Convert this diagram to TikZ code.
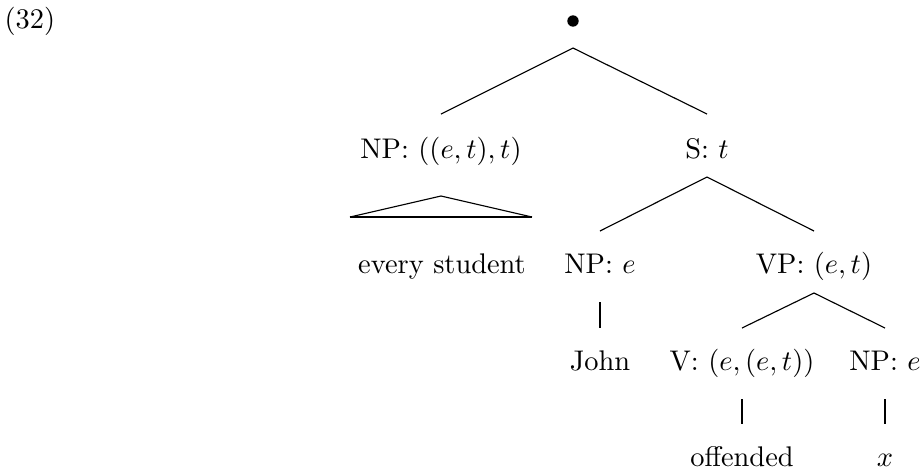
\documentclass[tikz,border=0pt]{standalone}
\usetikzlibrary{calc}
\begin{document}
\begin{tikzpicture}[x=0.352pt,y=-0.352pt,
  lbl/.style={anchor=base,inner sep=0pt},
  br/.style={line width=0.4pt},
  vline/.style={line width=0.7pt}]
\useasboundingbox (0,0) rectangle (922,472);
\node[inner sep=0pt,anchor=base west] (ex) at (4,28) {(32)};
\node[circle,fill,inner sep=0pt,minimum size=4pt] (root) at (573,21) {};
\node[lbl] (np1) at (441,158) {NP: $((e,t),t)$};
\node[lbl] (s) at (707,158) {S: $t$};
\node[lbl] (every) at (442,273) {every student};
\node[lbl] (npe) at (600,273) {NP: $e$};
\node[lbl] (vp) at (814,273) {VP: $(e,t)$};
\node[lbl] (john) at (600,370) {John};
\node[lbl] (v) at (742,370) {V: $(e,(e,t))$};
\node[lbl] (np2) at (885,370) {NP: $e$};
\node[lbl] (off) at (742,466) {offended};
\node[lbl] (xx) at (885,466) {$x$};
\draw[br] ($(np1.base)+(0,-44)$) -- ($(root.center)+(0,27)$) -- ($(s.base)+(0,-44)$);
\draw[br] ($(npe.base)+(0,-42)$) -- ($(s.base)+(0,19)$) -- ($(vp.base)+(0,-42)$);
\draw[br] ($(v.base)+(0,-42)$) -- ($(vp.base)+(0,20)$) -- ($(np2.base)+(0,-42)$);
\draw[vline] ($(npe.base)+(0,29)$) -- ($(john.base)+(0,-42)$);
\draw[vline] ($(v.base)+(0,29)$) -- ($(off.base)+(0,-42)$);
\draw[vline] ($(np2.base)+(0,29)$) -- ($(xx.base)+(0,-42)$);
\draw[br] ($(every.base)+(-92,-56)$) -- ($(np1.base)+(0,38)$) -- ($(every.base)+(90,-56)$);
\draw[vline] ($(every.base)+(-92,-56)$) -- ($(every.base)+(90,-56)$);
\end{tikzpicture}
\end{document}
